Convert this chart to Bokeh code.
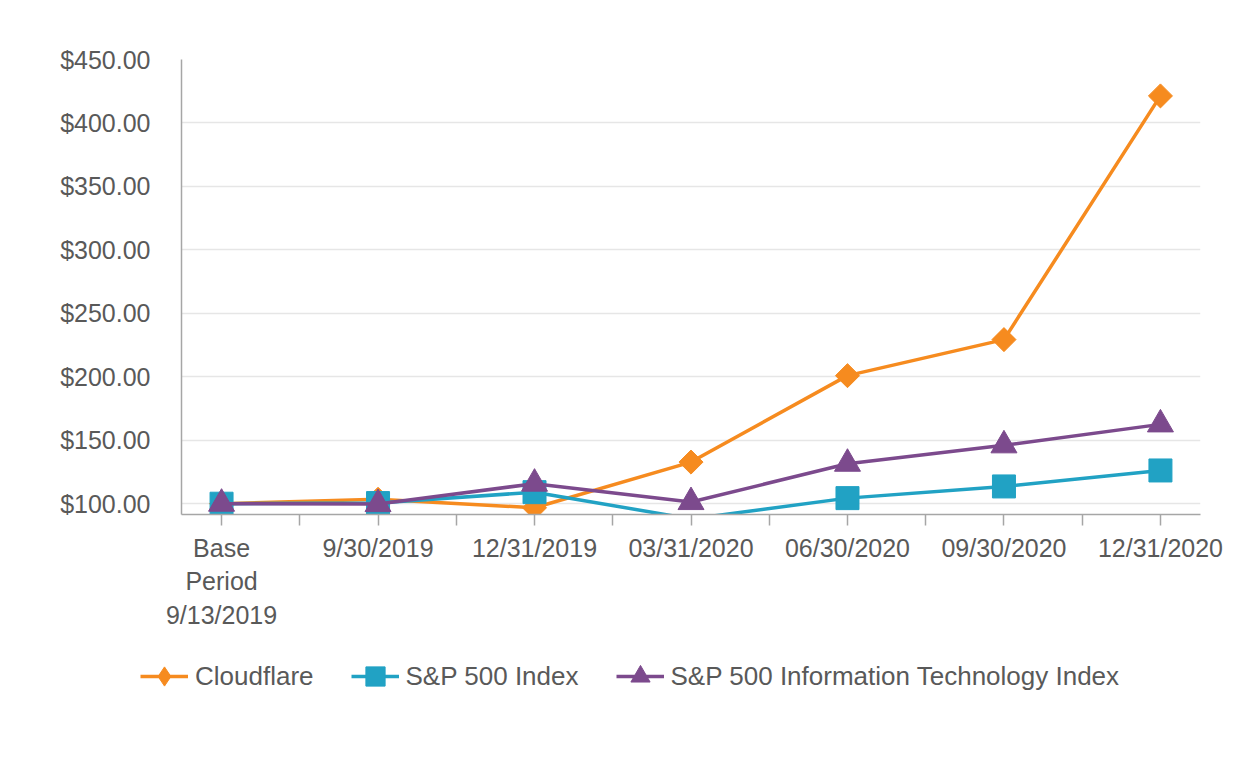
import numpy as np
from bokeh.plotting import figure
from bokeh.models import (ColumnDataSource, CDSView, BooleanFilter, FixedTicker, Range1d,
                          Legend, LegendItem, NumeralTickFormatter)
from bokeh.embed import file_html
from bokeh.resources import INLINE

# ---- data ----
periods = ["Base\nPeriod\n9/13/2019", "9/30/2019", "12/31/2019", "03/31/2020",
           "06/30/2020", "09/30/2020", "12/31/2020"]
cloudflare = [100.0, 103.5, 96.8, 132.8, 200.9, 229.3, 421.3]
sp500 = [100.0, 100.5, 109.1, 88.0, 104.4, 113.6, 126.2]
sp500_it = [100.0, 99.7, 115.8, 101.3, 131.5, 146.0, 162.5]
series_names = ["Cloudflare", "S&P 500 Index", "S&P 500 Information Technology Index"]
y_ticks = [100, 150, 200, 250, 300, 350, 400, 450]
y_min, y_max = 91.5, 450

FONT = "Liberation Sans"
TEXT = "#595959"
AXIS = "#A6A6A6"
GRID = "#E6E6E6"
ORANGE = "#F68B1F"
TEAL = "#21A2C4"
PURPLE = "#7C4A8D"

xs = list(range(len(periods)))
W = 1244

p = figure(width=W, height=640, output_backend="svg", toolbar_location=None,
           x_range=Range1d(-0.256, len(periods) - 1 + 0.256),
           y_range=Range1d(y_min, y_max),
           min_border_left=181, min_border_right=44, min_border_top=59,
           min_border_bottom=126)
p.outline_line_color = None
p.background_fill_color = "white"
p.border_fill_color = "white"

# grid
p.xgrid.visible = False
p.ygrid.ticker = FixedTicker(ticks=y_ticks)
p.ygrid.grid_line_color = GRID
p.ygrid.grid_line_width = 1.5

# x axis
xa = p.xaxis[0]
xa.ticker = FixedTicker(ticks=xs, minor_ticks=[i + 0.5 for i in xs[:-1]])
xa.major_label_overrides = {i: lab for i, lab in enumerate(periods)}
xa.axis_line_color = AXIS
xa.axis_line_width = 1.5
xa.major_tick_line_color = AXIS
xa.major_tick_line_width = 1.5
xa.minor_tick_line_color = AXIS
xa.minor_tick_line_width = 1.5
xa.major_tick_out = 11
xa.major_tick_in = 0
xa.minor_tick_out = 11
xa.minor_tick_in = 0
xa.major_label_standoff = 8
xa.major_label_text_font = FONT
xa.major_label_text_font_size = "25px"
xa.major_label_text_color = TEXT

# y axis
ya = p.yaxis[0]
ya.ticker = FixedTicker(ticks=y_ticks)
ya.formatter = NumeralTickFormatter(format="$0.00")
ya.axis_line_color = AXIS
ya.axis_line_width = 1.5
ya.major_tick_out = 0
ya.major_tick_in = 0
ya.minor_tick_out = 0
ya.minor_tick_in = 0
ya.major_label_standoff = 31
ya.major_label_text_font = FONT
ya.major_label_text_font_size = "25px"
ya.major_label_text_color = TEXT

# legend strip: same data, drawn out of view, only its legend shows
lg = figure(width=W, height=112, output_backend="svg", toolbar_location=None,
            x_range=Range1d(1000, 1001), y_range=Range1d(1000, 1001),
            x_axis_type=None, y_axis_type=None,
            min_border_left=0, min_border_right=0, min_border_top=0,
            min_border_bottom=0)
lg.outline_line_color = None
lg.grid.visible = False

series = [
    (cloudflare, ORANGE, "square", 17, np.pi / 4, "diamond"),
    (sp500, TEAL, "square", 23, 0.0, "square"),
    (sp500_it, PURPLE, "triangle", 26, 0.0, "triangle"),
]

items = []
for (vals, color, marker, size, ang, lmarker), name in zip(series, series_names):
    src = ColumnDataSource(dict(x=xs, y=vals))
    p.line("x", "y", source=src, line_color=color, line_width=3.5)
    visible = [v >= y_min for v in vals]
    p.scatter("x", "y", source=src, marker=marker, size=size, angle=ang,
              fill_color=color, line_color=color, line_width=1,
              view=CDSView(filter=BooleanFilter(visible)))
    lr = lg.line("x", "y", source=src, line_color=color, line_width=3.5)
    sr = lg.scatter("x", "y", source=src, marker=lmarker, size=size,
                    fill_color=color, line_color=color, line_width=1)
    items.append(LegendItem(label=name, renderers=[lr, sr]))

legend = Legend(items=items, orientation="horizontal", location=(140, 50),
                glyph_width=48, glyph_height=52, label_standoff=7, spacing=37,
                padding=0, margin=0, border_line_color=None,
                background_fill_alpha=0,
                label_text_font=FONT, label_text_font_size="26px",
                label_text_color=TEXT)
lg.add_layout(legend)

open("out.html", "w").write(file_html([p, lg], INLINE))
